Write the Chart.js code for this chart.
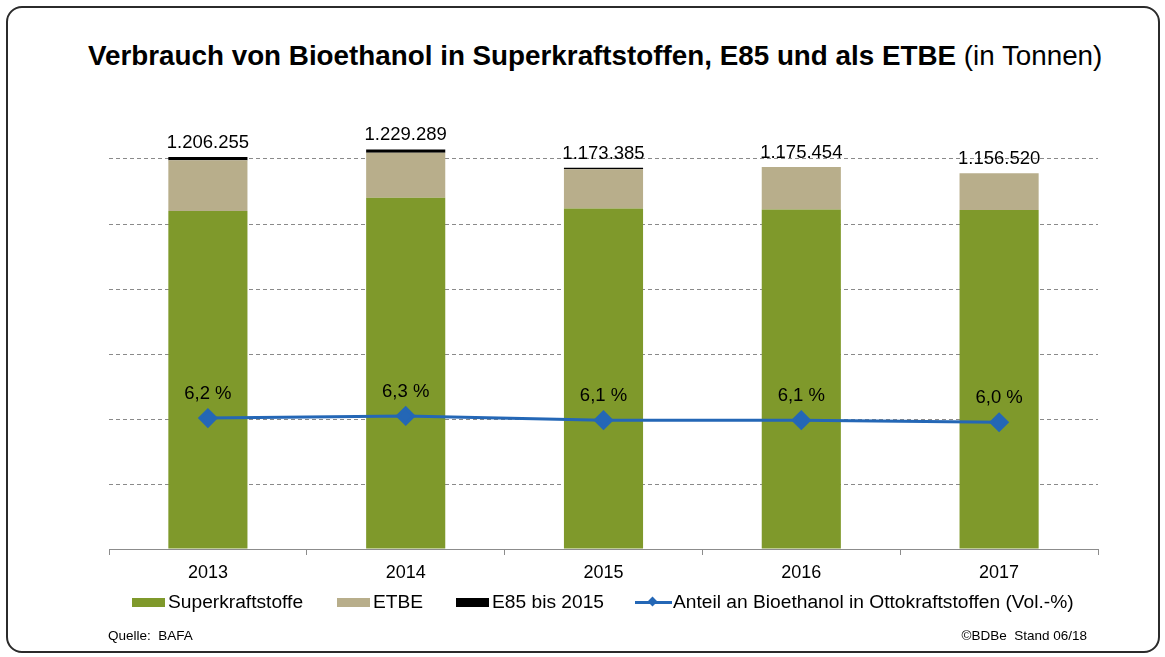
<!DOCTYPE html>
<html>
<head>
<meta charset="utf-8">
<script src="https://cdn.jsdelivr.net/npm/chart.js@4.4.1/dist/chart.umd.min.js"></script>
<style>
    html, body { margin: 0; padding: 0; background: #fff; }
    #wrap { position: relative; width: 1165px; height: 657px; overflow: hidden;
            font-family: "Liberation Sans", Arial, sans-serif; color: #000; }
    #frame { position: absolute; left: 6px; top: 6px; width: 1154px; height: 647px;
             border: 2px solid #2b2b2b; border-radius: 16px; box-sizing: border-box; }
    #chart { position: absolute; left: 0; top: 0; }
    #title { position: absolute; left: 88px; top: 40px; font-size: 27.8px; white-space: nowrap; }
    #title b { font-weight: bold; }
    .leg { position: absolute; top: 591px; font-size: 19.2px; white-space: nowrap; line-height: 22px; }
    .box { position: absolute; top: 7px; width: 33px; height: 9px; }
    .foot { position: absolute; top: 628px; font-size: 13.5px; white-space: nowrap; }
</style>
</head>
<body>
<div id="wrap">
    <div id="frame"></div>
    <div id="title"><b>Verbrauch von Bioethanol in Superkraftstoffen, E85 und als ETBE</b> (in Tonnen)</div>
    <canvas id="chart" width="1165" height="657"></canvas>
    <div id="legend"></div>
    <div class="foot" style="left:108px;">Quelle:&nbsp; BAFA</div>
    <div class="foot" style="right:78px;">©BDBe&nbsp; Stand 06/18</div>
</div>
<script>
// --- Daten (Tonnen) ---
const years = ['2013', '2014', '2015', '2016', '2017'];
const superkraftstoffe = [1040000, 1081000, 1048000, 1045000, 1043000];
const etbe = [156255, 138289, 120385, 130454, 113520];
const e85 = [10000, 10000, 5000, 0, 0];
const totals = [1206255, 1229289, 1173385, 1175454, 1156520];
const anteil = [6.2, 6.3, 6.1, 6.1, 6.0]; // Vol.-%
const gridValues = [0, 200000, 400000, 600000, 800000, 1000000, 1200000];

const colGreen = '#7f992b';
const colTan = '#b8ae8b';
const colBlack = '#000000';
const colBlue = '#2467b6';

const FONT = '"Liberation Sans", Arial, sans-serif';

function fmtTons(n) {
    return String(n).replace(/\B(?=(\d{3})+(?!\d))/g, '.');
}
function fmtPct(v) {
    return v.toFixed(1).replace('.', ',') + ' %';
}

// Beschriftungen über Balken und Linie
const labelPlugin = {
    id: 'valueLabels',
    afterDatasetsDraw(chart) {
        const ctx = chart.ctx;
        ctx.save();
        ctx.fillStyle = '#000';
        ctx.font = '18.5px ' + FONT;
        ctx.textAlign = 'center';
        ctx.textBaseline = 'alphabetic';
        const topBars = chart.getDatasetMeta(2).data;
        topBars.forEach((bar, i) => {
            ctx.fillText(fmtTons(totals[i]), bar.x, bar.y - 9);
        });
        const pts = chart.getDatasetMeta(3).data;
        pts.forEach((p, i) => {
            ctx.fillText(fmtPct(anteil[i]), p.x, p.y - 19);
        });
        ctx.restore();
    }
};

const chart = new Chart(document.getElementById('chart'), {
    type: 'bar',
    data: {
        labels: years,
        datasets: [{
            label: 'Superkraftstoffe',
            data: superkraftstoffe,
            backgroundColor: colGreen,
            stack: 's',
            order: 1
        }, {
            label: 'ETBE',
            data: etbe,
            backgroundColor: colTan,
            stack: 's',
            order: 2
        }, {
            label: 'E85 bis 2015',
            data: e85,
            backgroundColor: colBlack,
            stack: 's',
            order: 3
        }, {
            type: 'line',
            label: 'Anteil an Bioethanol in Ottokraftstoffen (Vol.-%)',
            data: anteil,
            yAxisID: 'y2',
            borderColor: colBlue,
            backgroundColor: colBlue,
            borderWidth: 3,
            pointStyle: 'rectRot',
            pointRadius: 8,
            pointHoverRadius: 8,
            tension: 0,
            order: 0
        }]
    },
    options: {
        responsive: false,
        animation: false,
        layout: { padding: { left: 109, right: 67, top: 126.5, bottom: 0 } },
        plugins: {
            legend: { display: false },
            tooltip: { enabled: false }
        },
        datasets: {
            bar: { categoryPercentage: 1.0, barPercentage: 0.4 }
        },
        scales: {
            x: {
                stacked: true,
                grid: { drawOnChartArea: false, drawTicks: true, tickLength: 6, color: '#8c8c8c', offset: true },
                border: { display: true, color: '#8c8c8c', width: 1 },
                ticks: { color: '#000', font: { family: FONT, size: 18 }, padding: 7 },
                afterFit: (s) => { s.height = 108; }
            },
            y: {
                stacked: true,
                min: 0,
                max: 1300000,
                ticks: { display: false },
                afterBuildTicks: (s) => { s.ticks = gridValues.map(v => ({ value: v })); },
                grid: {
                    drawTicks: false,
                    lineWidth: 1,
                    color: (c) => (c.tick && c.tick.value > 0) ? '#8a8a8a' : 'rgba(0,0,0,0)'
                },
                border: { display: false, dash: [4, 3] },
                afterFit: (s) => { s.width = 0; }
            },
            y2: {
                position: 'right',
                min: 0,
                max: 20,
                ticks: { display: false },
                grid: { display: false },
                border: { display: false },
                afterFit: (s) => { s.width = 0; }
            }
        }
    },
    plugins: [labelPlugin]
});

// --- Legende ---
const legendItems = [
    { x: 132, text: 'Superkraftstoffe', color: colGreen, kind: 'box' },
    { x: 337, text: 'ETBE', color: colTan, kind: 'box' },
    { x: 456, text: 'E85 bis 2015', color: colBlack, kind: 'box' },
    { x: 635, text: 'Anteil an Bioethanol in Ottokraftstoffen (Vol.-%)', color: colBlue, kind: 'line' }
];
const elLegend = document.getElementById('legend');
legendItems.forEach(item => {
    const div = document.createElement('div');
    div.className = 'leg';
    div.style.left = item.x + 'px';
    let sym;
    if (item.kind === 'box') {
        sym = `<span class="box" style="left:0;background:${item.color};"></span>`;
    } else {
        sym = `<span style="position:absolute;left:0;top:10px;width:37px;height:3px;background:${item.color};"></span>` +
              `<span style="position:absolute;left:14px;top:7px;width:7px;height:7px;background:${item.color};transform:rotate(45deg);"></span>`;
    }
    const pad = item.kind === 'box' ? 36 : 38;
    div.innerHTML = sym + `<span style="margin-left:${pad}px;">${item.text}</span>`;
    elLegend.appendChild(div);
});
</script>
</body>
</html>
